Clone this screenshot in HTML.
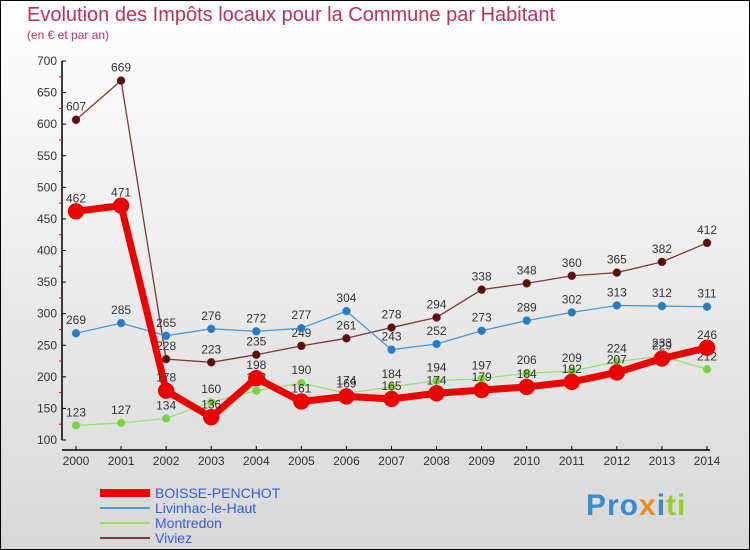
<!DOCTYPE html>
<html><head><meta charset="utf-8"><style>
body{margin:0}
#wrap{position:relative;width:748px;height:548px;border:1px solid #000;background:linear-gradient(#fff,#d8d8d8);font-family:"Liberation Sans",sans-serif;overflow:hidden}
.t{position:absolute;color:#c0305a}
</style></head><body>
<div id="wrap">
<div class="t" style="left:26px;top:3px;font-size:20px">Evolution des Impôts locaux pour la Commune par Habitant</div>
<div class="t" style="left:26px;top:27px;font-size:12px">(en € et par an)</div>
<svg id="s" width="750" height="550" style="position:absolute;left:-1px;top:-1px"></svg>
<div style="position:absolute;left:585px;top:488px;font-size:30px;font-weight:bold;letter-spacing:1px"><span style="color:#3a8ad0">Pro</span><span style="color:#f08a20">x</span><span style="color:#3a8ad0">i</span><span style="color:#9acd32">ti</span></div>
</div>
<script>
const years=[2000,2001,2002,2003,2004,2005,2006,2007,2008,2009,2010,2011,2012,2013,2014];
const yTicks=[100,150,200,250,300,350,400,450,500,550,600,650,700];
const boisse=[462,471,178,136,198,161,169,165,174,179,184,192,207,229,246];
const livinhac=[269,285,265,276,272,277,304,243,252,273,289,302,313,312,311];
const montredon=[123,127,134,160,178,190,174,184,194,197,206,209,224,233,212];
const viviez=[607,669,228,223,235,249,261,278,294,338,348,360,365,382,412];
const seriesNames=["BOISSE-PENCHOT","Livinhac-le-Haut","Montredon","Viviez"];
const NS="http://www.w3.org/2000/svg";
const s=document.getElementById('s');
const X=i=>76+i*(707-76)/(years.length-1);
const Y=v=>440-(v-100)*379/600;
function el(t,a,p){const e=document.createElementNS(NS,t);for(const k in a)e.setAttribute(k,a[k]);(p||s).appendChild(e);return e;}
// axes
let ax=el('line',{x1:62,y1:61,x2:62,y2:440,stroke:'#000','stroke-width':1.5});


let xa=el('line',{x1:62,y1:450,x2:710,y2:450,stroke:'#000','stroke-width':1.5});


yTicks.forEach(v=>{
  el('line',{x1:62,y1:Y(v),x2:66,y2:Y(v),stroke:'#000'});
  if(v<700)el('line',{x1:59,y1:Y(v+25),x2:62,y2:Y(v+25),stroke:'#e00'});
  const t=el('text',{x:57,y:Y(v)+4,'text-anchor':'end','font-size':12,fill:'#333'});
  t.textContent=v;
  
  
});
years.forEach((y,i)=>{
  el('line',{x1:X(i),y1:446,x2:X(i),y2:450,stroke:'#000'});
  const t=el('text',{x:X(i),y:465,'text-anchor':'middle','font-size':12,fill:'#333'});
  t.textContent=y;
  
  
});
function series(d,color,w,r,name,dot){
  const g=el('g',{});
  
  
  el('polyline',{points:d.map((v,i)=>X(i)+','+Y(v)).join(' '),fill:'none',stroke:color,'stroke-width':w,'stroke-linejoin':'round'},g);
  d.forEach((v,i)=>{
    el('circle',{cx:X(i),cy:Y(v),r:r,fill:dot,stroke:color,'stroke-width':0.5},g);
    const t=el('text',{x:X(i),y:Y(v)-9,'text-anchor':'middle','font-size':12,fill:'#333'},g);
    t.textContent=v;
  });
}
series(viviez,'#7a3a3a',1.3,4,'series-viviez','#5a1010');
series(livinhac,'#4a9ad8',1.3,4,'series-livinhac','#2a7ac0');
series(montredon,'#98e070',1.3,4,'series-montredon','#80d040');
series(boisse,'#ee0000',7,8,'series-boisse','#ee0000');
const cols=['#ee0000','#4a9ad8','#98e070','#7a3a3a'];
seriesNames.forEach((n,i)=>{
  const yy=493+i*15;
  const g=el('g',{});
  
  
  el('line',{x1:100,y1:yy,x2:150,y2:yy,stroke:cols[i],'stroke-width':i==0?8:2},g);
  const t=el('text',{x:155,y:yy+5,'font-size':14,fill:'#3a5ad8'},g);
  t.textContent=n;
});
</script>
</body></html>
